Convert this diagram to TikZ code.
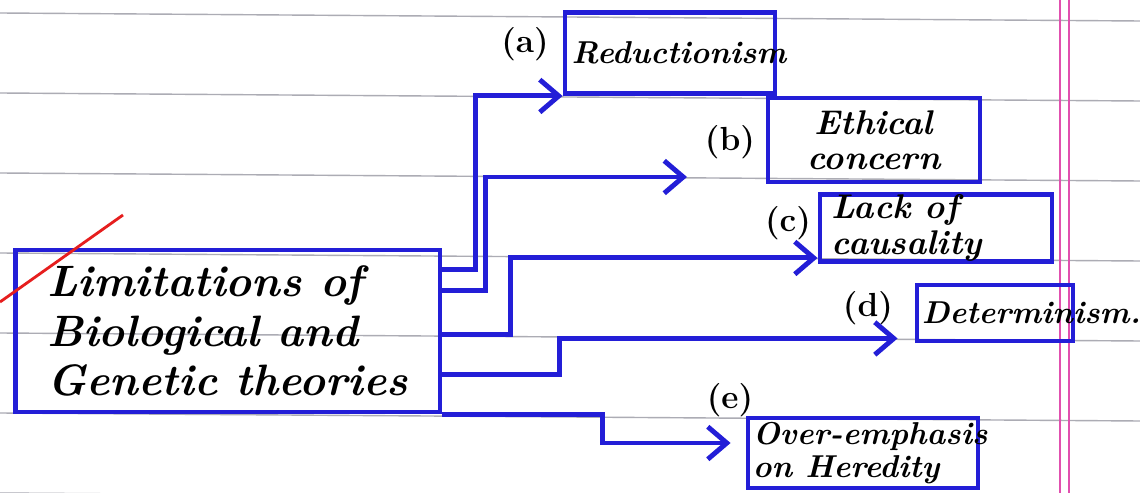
\documentclass[tikz,border=0pt]{standalone}
\usepackage{fontspec}
\usepackage{tikz}
\usetikzlibrary{arrows.meta,positioning}
\definecolor{limblue}{RGB}{35,30,215}
\definecolor{limpink}{RGB}{225,80,175}
\definecolor{limgray}{RGB}{172,172,180}
\definecolor{limred}{RGB}{230,30,30}
\tikzset{
  limbox/.style={draw=limblue,line width=2.8pt,inner sep=0pt},
  limmain/.style={limbox,minimum width=8.5cm,minimum height=3.24cm,
                  align=left,font=\fontsize{25}{28}\selectfont\bfseries\itshape},
  limleaf/.style={limbox},
  limtext/.style={inner sep=0pt,align=left,
                  font=\fontsize{18}{18.5}\selectfont\bfseries\itshape},
  limbig/.style={limtext,font=\fontsize{19.5}{20}\selectfont\bfseries\itshape},
  limtag/.style={inner sep=0pt,font=\fontsize{19}{20}\selectfont\bfseries},
  limflow/.style={-{Straight Barb[length=3.8mm,width=6.5mm]},line width=2.8pt,limblue},
  limpaper/.style={limgray,line width=0.8pt},
  limmargin/.style={limpink,line width=1.1pt},
  limslash/.style={limred,line width=1.6pt}
}

\begin{document}
\begin{tikzpicture}[x=0.02cm,y=-0.02cm]
  \useasboundingbox (0,0) rectangle (1140,493);
  \fill[white] (0,0) rectangle (1140,493);
  % ruled paper
  \foreach \k in {0,...,6}
    \draw[limpaper] (0,{13+80*\k}) -- (1140,{21+80*\k});
  \draw[limmargin] (1060,0) -- (1060,493);
  \draw[limmargin] (1069,0) -- (1069,493);

  \node[limmain] (main) at (227.5,331)
    {Limitations of\\Biological and\\Genetic theories};
  \draw[limslash] (0,302) -- (123,215);

  \node[limleaf,minimum width=4.2cm,minimum height=1.62cm] (a) at (670,53) {};
  \node[limleaf,minimum width=4.24cm,minimum height=1.68cm] (b) at (874,140) {};
  \node[limleaf,minimum width=4.64cm,minimum height=1.34cm] (c) at (936,228) {};
  \node[limleaf,minimum width=3.12cm,minimum height=1.12cm] (d) at (995,313) {};
  \node[limleaf,minimum width=4.6cm,minimum height=1.4cm] (e) at (863,453) {};

  \node[limtext,right=5pt of a.west] (atext) {Reductionism};
  \node[limbig,align=center] (btext) at (b.center) {Ethical\\concern};
  \node[limbig,right=8pt of c.west] (ctext) {Lack of\\causality};
  \node[limtext,right=4pt of d.west] (dtext) {Determinism.};
  \node[limtext,right=4pt of e.west] (etext) {Over-emphasis\\on Heredity};

  \node[limtag] (atag) at (525,44) {(a)};
  \node[limtag] (btag) at (730,142) {(b)};
  \node[limtag] (ctag) at (788,223) {(c)};
  \node[limtag] (dtag) at (868,308) {(d)};
  \node[limtag] (etag) at (730,400) {(e)};

  \coordinate (bend) at (687,177);
  \draw[limflow] ([yshift=-0.44cm]main.north east) -- ++(33,0) |- (a.south west);
  \draw[limflow] ([yshift=-0.86cm]main.north east) -- ++(43,0) |- (bend);
  \draw[limflow] ([yshift=-1.74cm]main.north east) -- ++(68,0)
    |- ([yshift=0.12cm]c.south west);
  \draw[limflow] ([yshift=-2.54cm]main.north east) -- ++(117,0)
    |- ([xshift=-0.34cm,yshift=0.1cm]d.south west);
  \draw[limflow] (main.south east) -- ++(160,0)
    |- ([xshift=-0.3cm,yshift=0.2cm]e.west);
\end{tikzpicture}
\end{document}
